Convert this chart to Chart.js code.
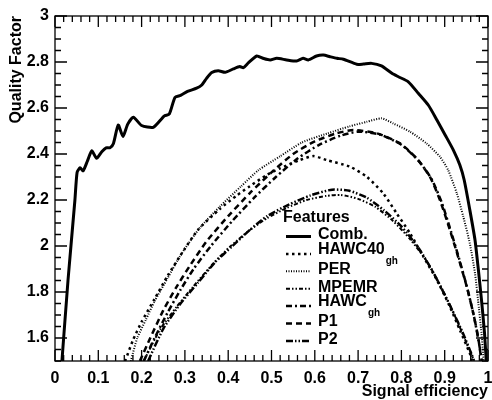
<!DOCTYPE html>
<html>
<head>
<meta charset="utf-8">
<script src="https://cdn.jsdelivr.net/npm/chart.js@4"></script>
<style>
  html, body { margin: 0; padding: 0; background: #fff; }
  #wrap { width: 492px; height: 400px; position: relative; }
</style>
</head>
<body>
<div id="wrap"><canvas id="qfChart"></canvas></div>
<script>
// signal efficiency (x) and quality factor (y) for each feature set
const effComb = [0.016, 0.03, 0.046, 0.051, 0.058, 0.065, 0.075, 0.085, 0.096, 0.108, 0.118, 0.127, 0.135, 0.146, 0.157, 0.168, 0.181, 0.2, 0.227, 0.252, 0.264, 0.277, 0.29, 0.306, 0.327, 0.339, 0.35, 0.362, 0.377, 0.393, 0.412, 0.427, 0.435, 0.447, 0.466, 0.482, 0.497, 0.512, 0.535, 0.558, 0.573, 0.585, 0.604, 0.62, 0.635, 0.651, 0.666, 0.697, 0.712, 0.731, 0.754, 0.778, 0.793, 0.816, 0.839, 0.862, 0.882, 0.901, 0.92, 0.935, 0.945, 0.958, 0.97, 0.977, 0.985, 0.992, 0.996];
const qComb   = [1.5, 1.85, 2.2, 2.32, 2.34, 2.327, 2.37, 2.414, 2.381, 2.41, 2.427, 2.427, 2.446, 2.526, 2.476, 2.53, 2.56, 2.524, 2.516, 2.565, 2.574, 2.646, 2.655, 2.672, 2.686, 2.70, 2.729, 2.754, 2.762, 2.755, 2.77, 2.78, 2.775, 2.797, 2.826, 2.815, 2.809, 2.816, 2.809, 2.804, 2.816, 2.809, 2.826, 2.830, 2.823, 2.816, 2.812, 2.79, 2.791, 2.794, 2.783, 2.751, 2.736, 2.714, 2.664, 2.613, 2.548, 2.483, 2.417, 2.352, 2.287, 2.157, 2.026, 1.91, 1.765, 1.62, 1.5];

const effHawc40 = [0.162, 0.18, 0.2, 0.23, 0.26, 0.29, 0.33, 0.38, 0.42, 0.45, 0.49, 0.52, 0.566, 0.597, 0.627, 0.681, 0.72, 0.758, 0.789, 0.82, 0.851, 0.882, 0.912, 0.935, 0.958, 0.963];
const qHawc40   = [1.5, 1.59, 1.67, 1.77, 1.87, 1.96, 2.07, 2.16, 2.22, 2.26, 2.31, 2.338, 2.374, 2.391, 2.374, 2.345, 2.301, 2.229, 2.142, 2.055, 1.953, 1.852, 1.736, 1.635, 1.533, 1.5];

const effPer = [0.175, 0.19, 0.21, 0.23, 0.26, 0.29, 0.335, 0.38, 0.43, 0.47, 0.52, 0.57, 0.63, 0.68, 0.72, 0.754, 0.781, 0.82, 0.858, 0.889, 0.908, 0.928, 0.943, 0.958, 0.97, 0.977, 0.985, 0.99];
const qPer   = [1.5, 1.6, 1.68, 1.76, 1.86, 1.96, 2.08, 2.17, 2.26, 2.33, 2.39, 2.45, 2.49, 2.52, 2.54, 2.555, 2.533, 2.497, 2.446, 2.388, 2.33, 2.229, 2.127, 2.012, 1.881, 1.765, 1.62, 1.5];

const effMpemr = [0.205, 0.242, 0.281, 0.319, 0.366, 0.404, 0.447, 0.489, 0.535, 0.581, 0.627, 0.66, 0.70, 0.74, 0.78, 0.82, 0.86, 0.895, 0.925, 0.95, 0.968];
const qMpemr   = [1.5, 1.635, 1.736, 1.823, 1.925, 1.997, 2.065, 2.12, 2.165, 2.2, 2.218, 2.222, 2.205, 2.17, 2.11, 2.03, 1.93, 1.81, 1.69, 1.58, 1.5];

const effHawcgh = [0.205, 0.23, 0.26, 0.29, 0.32, 0.36, 0.41, 0.46, 0.51, 0.56, 0.61, 0.66, 0.70, 0.75, 0.80, 0.84, 0.87, 0.893, 0.915, 0.934, 0.953, 0.968, 0.978, 0.986];
const qHawcgh   = [1.5, 1.6, 1.71, 1.81, 1.9, 2.0, 2.11, 2.21, 2.30, 2.38, 2.44, 2.48, 2.497, 2.485, 2.44, 2.37, 2.29, 2.19, 2.06, 1.94, 1.81, 1.69, 1.59, 1.5];

const effP1 = [0.196, 0.22, 0.25, 0.28, 0.31, 0.35, 0.40, 0.45, 0.50, 0.55, 0.60, 0.65, 0.689, 0.743, 0.797, 0.835, 0.866, 0.889, 0.912, 0.931, 0.951, 0.966, 0.977, 0.985];
const qP1   = [1.5, 1.6, 1.72, 1.82, 1.91, 2.02, 2.13, 2.23, 2.32, 2.40, 2.455, 2.49, 2.504, 2.49, 2.446, 2.381, 2.301, 2.2, 2.07, 1.953, 1.823, 1.707, 1.606, 1.5];

const effP2 = [0.215, 0.25, 0.29, 0.33, 0.37, 0.41, 0.45, 0.49, 0.54, 0.59, 0.64, 0.68, 0.72, 0.76, 0.80, 0.84, 0.875, 0.91, 0.94, 0.962, 0.968];
const qP2   = [1.5, 1.64, 1.75, 1.84, 1.93, 2.0, 2.07, 2.13, 2.18, 2.22, 2.245, 2.24, 2.21, 2.155, 2.085, 1.99, 1.88, 1.75, 1.63, 1.53, 1.5];

const seriesNames = ['Comb.', 'HAWC40', 'PER', 'MPEMR', 'HAWC', 'P1', 'P2'];
const seriesSubs  = ['', 'gh', '', '', 'gh', '', ''];
const yTickLabels = [1.6, 1.8, 2.0, 2.2, 2.4, 2.6, 2.8, 3.0];
const xTickLabels = [0, 0.1, 0.2, 0.3, 0.4, 0.5, 0.6, 0.7, 0.8, 0.9, 1];

const FONT = '"Liberation Sans", Arial, Helvetica, sans-serif';

function toPoints(xs, ys) {
    return xs.map((x, i) => ({ x: x, y: ys[i] }));
}

function makeSet(idx, xs, ys, width, dash) {
    return {
        label: seriesNames[idx],
        data: toPoints(xs, ys),
        showLine: true,
        borderColor: '#000',
        borderWidth: width,
        borderDash: dash,
        borderCapStyle: 'butt',
        pointRadius: 0,
        tension: 0.2,
        fill: false
    };
}

// inward ticks on all four sides plus the frame
const frameTicks = {
    id: 'frameTicks',
    afterDatasetsDraw(chart) {
        const ctx = chart.ctx;
        const a = chart.chartArea;
        const xs = chart.scales.x, ys = chart.scales.y;
        ctx.save();
        ctx.strokeStyle = '#000';
        ctx.lineWidth = 1.3;
        ctx.setLineDash([]);
        ctx.strokeRect(a.left, a.top, a.right - a.left, a.bottom - a.top);
        ctx.beginPath();
        for (let i = 0; i <= 50; i++) {
            const v = i * 0.02;
            const px = xs.getPixelForValue(v);
            const len = (i % 5 === 0) ? 11 : 6;
            ctx.moveTo(px, a.bottom); ctx.lineTo(px, a.bottom - len);
            ctx.moveTo(px, a.top); ctx.lineTo(px, a.top + len);
        }
        for (let i = 0; i <= 30; i++) {
            const v = 1.5 + i * 0.05;
            const py = ys.getPixelForValue(v);
            const len = ((i + 2) % 4 === 0) ? 12 : 6;
            ctx.moveTo(a.left, py); ctx.lineTo(a.left + len, py);
            ctx.moveTo(a.right, py); ctx.lineTo(a.right - len, py);
        }
        ctx.stroke();
        ctx.restore();
    }
};

// ROOT-like legend with subscripts
const featLegend = {
    id: 'featLegend',
    afterDatasetsDraw(chart) {
        const ctx = chart.ctx;
        ctx.save();
        ctx.fillStyle = '#000';
        ctx.textBaseline = 'middle';
        ctx.textAlign = 'left';
        ctx.font = 'bold 16px ' + FONT;
        ctx.fillText('Features', 283, 218);
        chart.data.datasets.forEach((ds, i) => {
            const y = 236.5 + i * 17.4;
            ctx.strokeStyle = '#000';
            ctx.lineWidth = ds.borderWidth;
            ctx.setLineDash(ds.borderDash || []);
            ctx.beginPath();
            ctx.moveTo(286, y);
            ctx.lineTo(311, y);
            ctx.stroke();
            ctx.setLineDash([]);
            const sub = seriesSubs[i];
            const ty = sub ? y - 4.5 : y - 1.5;
            ctx.font = 'bold 16px ' + FONT;
            ctx.fillText(ds.label, 318, ty);
            if (sub) {
                const w = ctx.measureText(ds.label).width;
                ctx.font = 'bold 10px ' + FONT;
                ctx.fillText(sub, 318 + w + 1, ty + 12);
            }
        });
        ctx.restore();
    }
};

const datasets = [
    makeSet(0, effComb, qComb, 3, []),
    makeSet(1, effHawc40, qHawc40, 2.5, [2.5, 3.5]),
    makeSet(2, effPer, qPer, 2, [1, 1.5]),
    makeSet(3, effMpemr, qMpemr, 2, [4, 2, 1.5, 2, 1.5, 2]),
    makeSet(4, effHawcgh, qHawcgh, 2.5, [6, 3, 2, 3]),
    makeSet(5, effP1, qP1, 2.5, [6, 4]),
    makeSet(6, effP2, qP2, 2.5, [7, 2, 1.5, 2, 1.5, 2])
];

new Chart(document.getElementById('qfChart'), {
    type: 'scatter',
    data: { datasets: datasets },
    plugins: [frameTicks, featLegend],
    options: {
        responsive: true,
        maintainAspectRatio: false,
        animation: false,
        layout: { padding: { left: 0, right: 4, top: 16, bottom: 0 } },
        plugins: {
            legend: { display: false },
            tooltip: { enabled: false }
        },
        scales: {
            x: {
                type: 'linear',
                min: 0,
                max: 1,
                grid: { display: false, drawTicks: false },
                border: { display: false },
                afterBuildTicks: s => { s.ticks = xTickLabels.map(v => ({ value: v })); },
                afterFit: s => { s.height = 39; s.paddingLeft = 0; s.paddingRight = 0; },
                ticks: {
                    padding: 8,
                    color: '#000',
                    font: { family: FONT, size: 16, weight: 'bold' },
                    maxRotation: 0,
                    callback: v => String(+v.toFixed(1))
                },
                title: {
                    display: true,
                    text: 'Signal efficiency',
                    align: 'end',
                    color: '#000',
                    padding: 0,
                    font: { family: FONT, size: 16, weight: 'bold', lineHeight: 1 }
                }
            },
            y: {
                type: 'linear',
                min: 1.5,
                max: 3,
                grid: { display: false, drawTicks: false },
                border: { display: false },
                afterBuildTicks: s => { s.ticks = yTickLabels.map(v => ({ value: v })); },
                afterFit: s => { s.width = 55; s.paddingTop = 0; s.paddingBottom = 0; },
                ticks: {
                    padding: 6,
                    color: '#000',
                    font: { family: FONT, size: 16, weight: 'bold' },
                    callback: v => String(+v.toFixed(1))
                },
                title: {
                    display: true,
                    text: 'Quality Factor',
                    align: 'end',
                    color: '#000',
                    padding: { top: 9, bottom: 0 },
                    font: { family: FONT, size: 16, weight: 'bold', lineHeight: 1 }
                }
            }
        }
    }
});
</script>
</body>
</html>
